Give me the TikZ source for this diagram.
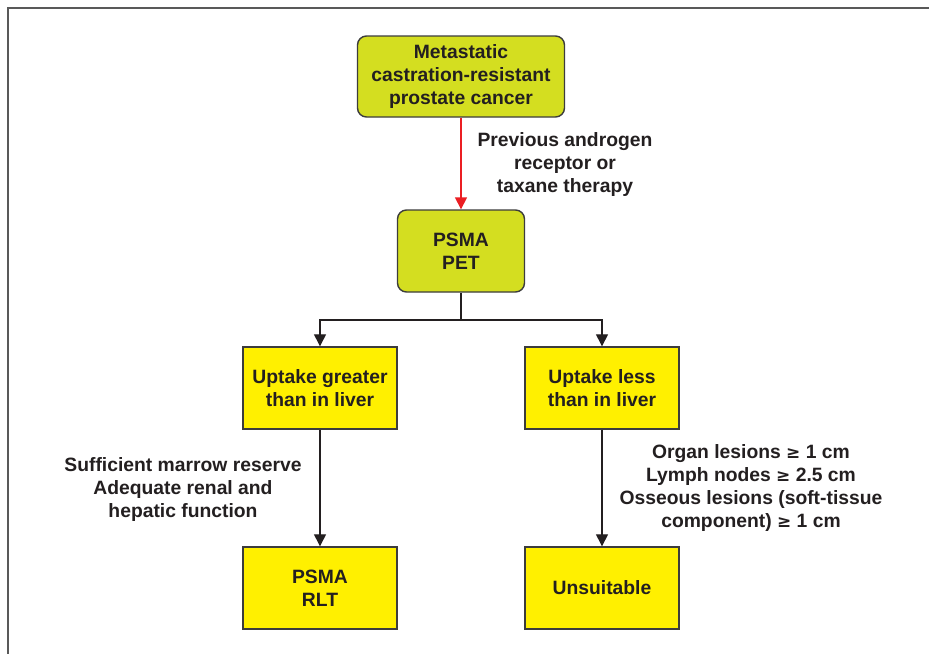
\documentclass[tikz,border=0pt]{standalone}
\usepackage{fontspec}
\setmainfont{Liberation Sans}
\usetikzlibrary{arrows.meta}
\definecolor{lime}{RGB}{212,222,32}
\definecolor{yel}{RGB}{255,240,0}
\definecolor{txt}{RGB}{35,31,32}
\definecolor{edge}{RGB}{60,60,60}
\definecolor{redl}{RGB}{235,30,35}
\newfontfamily\symfont{DejaVu Sans}
\tikzset{
  base/.style={draw=edge, line width=1.4pt, align=center, text=txt,
    font=\bfseries\fontsize{19.3}{23}\selectfont, inner sep=0pt},
  limebox/.style={base, fill=lime, rounded corners=9pt},
  yelbox/.style={base, fill=yel, minimum width=154pt, minimum height=82pt},
  lbl/.style={align=center, text=txt, font=\bfseries\fontsize{19.3}{23}\selectfont, inner sep=0pt},
  arr/.style={line width=1.3pt, draw=txt, -{Triangle[width=12pt,length=12pt]}},
  redarr/.style={line width=1.6pt, draw=redl, -{Triangle[width=12pt,length=12pt]}, redl},
  ln/.style={line width=1.3pt, draw=txt},
}
\newcommand{\mygeq}{{\symfont\bfseries\fontsize{17}{23}\selectfont ≥}}
\begin{document}
\begin{tikzpicture}[x=1pt,y=-1pt]
\useasboundingbox (0,0) rectangle (929,654);
\fill[white] (0,0) rectangle (929,654);
\draw[gray!70!black, line width=1.8pt] (929,8) -- (8,8) -- (8,654);

\node[limebox, minimum width=207pt, minimum height=81pt] (mcrpc) at (461,76.5)
  {Metastatic\\castration-resistant\\prostate cancer};
\node[limebox, minimum width=127pt, minimum height=82pt] (pet) at (461,251)
  {PSMA\\PET};
\node[yelbox] (up) at (320,388) {Uptake greater\\than in liver};
\node[yelbox] (low) at (602,388) {Uptake less\\than in liver};
\node[yelbox] (rlt) at (320,588) {PSMA\\RLT};
\node[yelbox] (uns) at (602,588) {Unsuitable};

\node[lbl] (l1) at (565,165) {Previous androgen\\receptor or\\taxane therapy};
\node[lbl] (l2) at (183,490) {Sufficient marrow reserve\\Adequate renal and\\hepatic function};
\node[lbl] (l3) at (751,488) {Organ lesions \mygeq{} 1 cm\\Lymph nodes \mygeq{} 2.5 cm\\Osseous lesions (soft-tissue\\component) \mygeq{} 1 cm};

\draw[redarr] (mcrpc.south) -- (pet.north);
\coordinate (split) at (461,320);
\draw[ln] (pet.south) -- (split);
\draw[arr] (split) -| (up.north);
\draw[arr] (split) -| (low.north);
\draw[arr] (up.south) -- (rlt.north);
\draw[arr] (low.south) -- (uns.north);
\end{tikzpicture}
\end{document}
